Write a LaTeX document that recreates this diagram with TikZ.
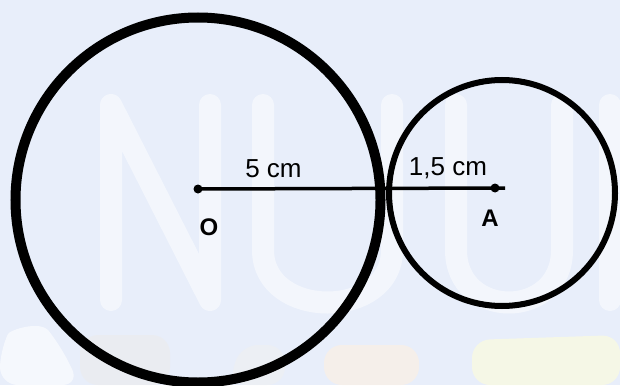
\documentclass[tikz,border=0pt]{standalone}
\usepackage{fontspec}
\setmainfont{Liberation Sans}
\begin{document}
\begin{tikzpicture}[x=1pt,y=-1pt,
  wm/.style={white, opacity=0.5, line width=22pt, line cap=round, line join=round},
  blob/.style={opacity=0.6, rounded corners=18pt},
  lbl/.style={font=\fontsize{26}{30}\selectfont, inner sep=0pt},
  pt/.style={font=\fontsize{24}{28}\selectfont\bfseries, inner sep=0pt}]
\definecolor{bg}{HTML}{E8EEFA}
\fill[bg] (0,0) rectangle (620,385);
\useasboundingbox (0,0) rectangle (620,385);
% faint watermark
\draw[wm] (111,300) -- (111,105) -- (210,300) -- (210,105);
\draw[wm] (263,105) -- (263,250) .. controls (263,320) and (392,320) .. (392,250) -- (392,105);
\draw[wm] (456,105) -- (456,250) .. controls (456,320) and (562,320) .. (562,250) -- (562,105);
\draw[wm] (610,105) -- (610,300);
\fill[blob, fill=white] (0,385) -- (0,350) .. controls (10,330) and (40,320) .. (60,345) -- (80,385) -- cycle;
\fill[blob, fill=gray!15] (80,385) -- (80,335) -- (170,335) -- (170,385) -- cycle;
\fill[blob, fill=gray!12] (229,385) -- (240,345) -- (285,345) -- (285,385) -- cycle;
\fill[blob, fill=orange!12] (324,385) -- (324,345) -- (419,345) -- (419,385) -- cycle;
\fill[blob, fill=yellow!15] (472,385) -- (472,340) -- (620,335) -- (620,385) -- cycle;
% geometry
\coordinate (O) at (198,189);
\coordinate (A) at (495,188);
\coordinate (E) at (505,188);
\coordinate (C1) at (198,200);
\coordinate (C2) at (502,193);
\draw[line width=10pt] (C1) circle[radius=182.5];
\draw[line width=6pt] (C2) circle[radius=113];
\draw[line width=3.5pt] (O) -- (E);
\fill (O) circle[radius=4.5];
\fill (A) circle[radius=4.5];
\node[lbl] (l5) at (273.5,169) {5 cm};
\node[lbl] (l15) at (448,168) {1,5 cm};
\node[pt] (lo) at (209,227) {O};
\node[pt] (la) at (490,218) {A};
\end{tikzpicture}
\end{document}
